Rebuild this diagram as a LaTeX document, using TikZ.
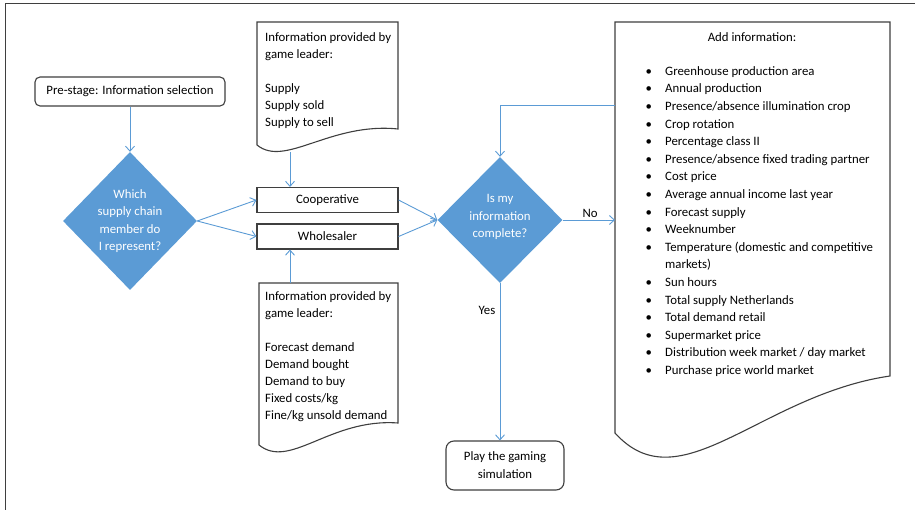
\documentclass[tikz,border=0pt]{standalone}
\usepackage{fontspec}
\setmainfont{Carlito}
\usetikzlibrary{arrows.meta,shapes.geometric}
\definecolor{dblue}{HTML}{5B9BD5}
\definecolor{edgec}{HTML}{3F3F3F}
\begin{document}
\begin{tikzpicture}[x=1pt,y=-1pt,
  box/.style={draw=edgec,line width=1.1pt,fill=white,inner sep=0pt,align=center,font=\fontsize{12.8}{17}\selectfont},
  rbox/.style={box,rounded corners=5pt},
  dia/.style={diamond,fill=dblue,inner sep=0pt},
  diatext/.style={text=white,align=center,inner sep=0pt,font=\fontsize{12.8}{17.3}\selectfont},
  doc/.style={draw=edgec,line width=1.1pt,fill=white},
  doctext/.style={align=left,anchor=north west,inner sep=0pt,font=\fontsize{12.8}{17}\selectfont},
  arr/.style={draw=dblue,line width=0.9pt,-{Straight Barb[length=5pt,width=9pt]}},
  lbl/.style={inner sep=0pt,font=\fontsize{12.8}{15}\selectfont}
]
\useasboundingbox (0,0) rectangle (915,510);
\draw[edgec,line width=1.4pt] (915,3.5) -- (5.5,3.5) -- (5.5,510);

% pre-stage and first decision
\node[rbox,minimum width=190pt,minimum height=29pt] (pre) at (130,91.5) {Pre-stage: Information selection};
\node[dia,minimum width=134pt,minimum height=138pt] (d1) at (130,221) {};
\node[diatext] (d1t) at (130,221) {Which\\supply chain\\member do\\I represent?};

% members
\node[box,minimum width=141pt,minimum height=25pt] (coop) at (327.5,200) {Cooperative};
\node[box,minimum width=141pt,minimum height=25pt] (wh) at (327.5,236.5) {Wholesaler};

% document 1
\draw[doc] (257,22) -- (398,22) -- (398,129) .. controls (330,122) and (285,168) .. (257,145) -- cycle;
\node[doctext] (doc1t) at (265,29.1) {\strut Information provided by\\game leader:\\[17pt]Supply\\Supply sold\\Supply to sell};
\coordinate (doc1b) at (290,152);

% document 2
\draw[doc] (259,283) -- (398,283) -- (398,423) .. controls (330,418) and (290,470) .. (259,445) -- cycle;
\node[doctext] (doc2t) at (265,288.1) {\strut Information provided by\\game leader:\\[17pt]Forecast demand\\Demand bought\\Demand to buy\\Fixed costs/kg\\Fine/kg unsold demand};
\coordinate (doc2top) at (290,283);

% second decision
\node[dia,minimum width=125pt,minimum height=126pt] (d2) at (500,220) {};
\node[diatext] (d2t) at (500,217) {Is my\\information\\complete?};

% document 3
\draw[doc] (615,22) -- (890,22) -- (890,376) .. controls (760,395) and (680,505) .. (615,433) -- cycle;
\node[lbl] (addt) at (752,37) {Add information:};
\node[anchor=north west,inner sep=0pt,font=\fontsize{12.8}{17.6}\selectfont] (list) at (645.5,62.7) {%
\begin{tabular}{@{}p{19.5pt}@{}l@{}}
\textbullet & Greenhouse production area\\
\textbullet & Annual production\\
\textbullet & Presence/absence illumination crop\\
\textbullet & Crop rotation\\
\textbullet & Percentage class II\\
\textbullet & Presence/absence fixed trading partner\\
\textbullet & Cost price\\
\textbullet & Average annual income last year\\
\textbullet & Forecast supply\\
\textbullet & Weeknumber\\
\textbullet & Temperature (domestic and competitive\\
 & markets)\\
\textbullet & Sun hours\\
\textbullet & Total supply Netherlands\\
\textbullet & Total demand retail\\
\textbullet & Supermarket price\\
\textbullet & Distribution week market / day market\\
\textbullet & Purchase price world market
\end{tabular}};
\coordinate (d3fb) at (615,105);
\coordinate (d3no) at (615,220);

% final
\node[box,rounded corners=8pt,minimum width=118pt,minimum height=49pt,font=\fontsize{12.8}{18}\selectfont] (play) at (505,465.5) {Play the gaming\\simulation};

% connectors
\draw[arr] (pre.south) -- (d1.north);
\draw[arr] (d1.east) -- (coop.west);
\draw[arr] (d1.east) -- (wh.west);
\draw[arr] (doc1b) -- (doc1b |- coop.north);
\draw[arr] (doc2top) -- (doc2top |- wh.south);
\draw[arr] (coop.east) -- (d2.west);
\draw[arr] (wh.east) -- (d2.west);
\draw[arr] (d3fb) -| (d2.north);
\draw[arr] (d2.east) -- (d3no);
\node[lbl] (nol) at (590,213) {No};
\draw[arr] (d2.south) -- (d2.south |- play.north);
\node[lbl] (yesl) at (487,310) {Yes};
\end{tikzpicture}
\end{document}
